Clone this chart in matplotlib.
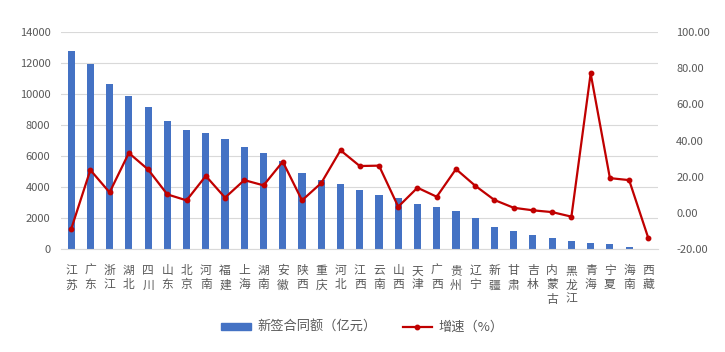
import matplotlib.pyplot as plt
import numpy as np
from matplotlib.lines import Line2D
from matplotlib.patches import Patch

plt.rcParams['font.family'] = ['Noto Sans CJK SC', 'DejaVu Sans']

provinces = ['江苏', '广东', '浙江', '湖北', '四川', '山东', '北京', '河南', '福建', '上海',
             '湖南', '安徽', '陕西', '重庆', '河北', '江西', '云南', '山西', '天津', '广西',
             '贵州', '辽宁', '新疆', '甘肃', '吉林', '内蒙古', '黑龙江', '青海', '宁夏', '海南', '西藏']
contracts = [12780, 11950, 10660, 9860, 9170, 8260, 7700, 7470, 7080, 6560,
             6220, 5650, 4880, 4450, 4190, 3830, 3490, 3270, 2920, 2710,
             2430, 2020, 1440, 1180, 880, 730, 540, 390, 300, 110, 30]
growth = [-9.1, 23.7, 11.3, 33.1, 24.0, 10.2, 6.9, 20.4, 8.4, 18.1,
          15.2, 28.3, 6.9, 16.5, 34.6, 25.9, 26.1, 3.4, 13.9, 8.9,
          24.2, 15.0, 7.1, 2.8, 1.4, 0.4, -2.1, 77.1, 19.2, 18.1, -14.1]

blue = '#4472C4'
red = '#C00000'
grey = '#595959'

fig = plt.figure(figsize=(7.25, 3.52), dpi=100)
ax = fig.add_axes([0.0848, 0.2926, 0.8228, 0.6164])
x = np.arange(len(provinces))

ax.bar(x, contracts, width=0.37, color=blue, zorder=2)
ax.set_xlim(-0.5, len(provinces) - 0.5)
ax.set_ylim(0, 14000)
ax.set_yticks(range(0, 14001, 2000))
ax.grid(axis='y', color='#D9D9D9', linewidth=0.8, zorder=0)
ax.set_axisbelow(True)
for s in ['top', 'right', 'left']:
    ax.spines[s].set_visible(False)
ax.spines['bottom'].set_color('#D9D9D9')
ax.tick_params(axis='y', length=0, pad=8, labelsize=8, labelcolor=grey)
ax.tick_params(axis='x', length=0, pad=11, labelsize=8.5, labelcolor=grey)
ax.set_xticks(x)
ax.set_xticklabels(['\n'.join(p) for p in provinces], linespacing=1.12, va='top')

ax2 = ax.twinx()
ax2.plot(x, growth, color=red, linewidth=1.6, marker='o', markersize=3.2, zorder=3)
ax2.set_ylim(-20, 100)
ax2.set_yticks(range(-20, 101, 20))
ax2.set_yticklabels(['%.2f' % v for v in range(-20, 101, 20)])
ax2.tick_params(axis='y', length=0, pad=13, labelsize=8, labelcolor=grey)
for s in ['top', 'right', 'left', 'bottom']:
    ax2.spines[s].set_visible(False)

handles = [Patch(color=blue), Line2D([0], [0], color=red, linewidth=1.6, marker='o', markersize=3.2)]
fig.legend(handles, ['新签合同额（亿元）', '增速（%）'], loc='center', bbox_to_anchor=(0.5, 0.07),
           ncol=2, frameon=False, fontsize=9.5, labelcolor=grey, handlelength=2.2,
           handleheight=0.45, handletextpad=0.5, columnspacing=2.0)

fig.savefig('out.png', dpi=100)
